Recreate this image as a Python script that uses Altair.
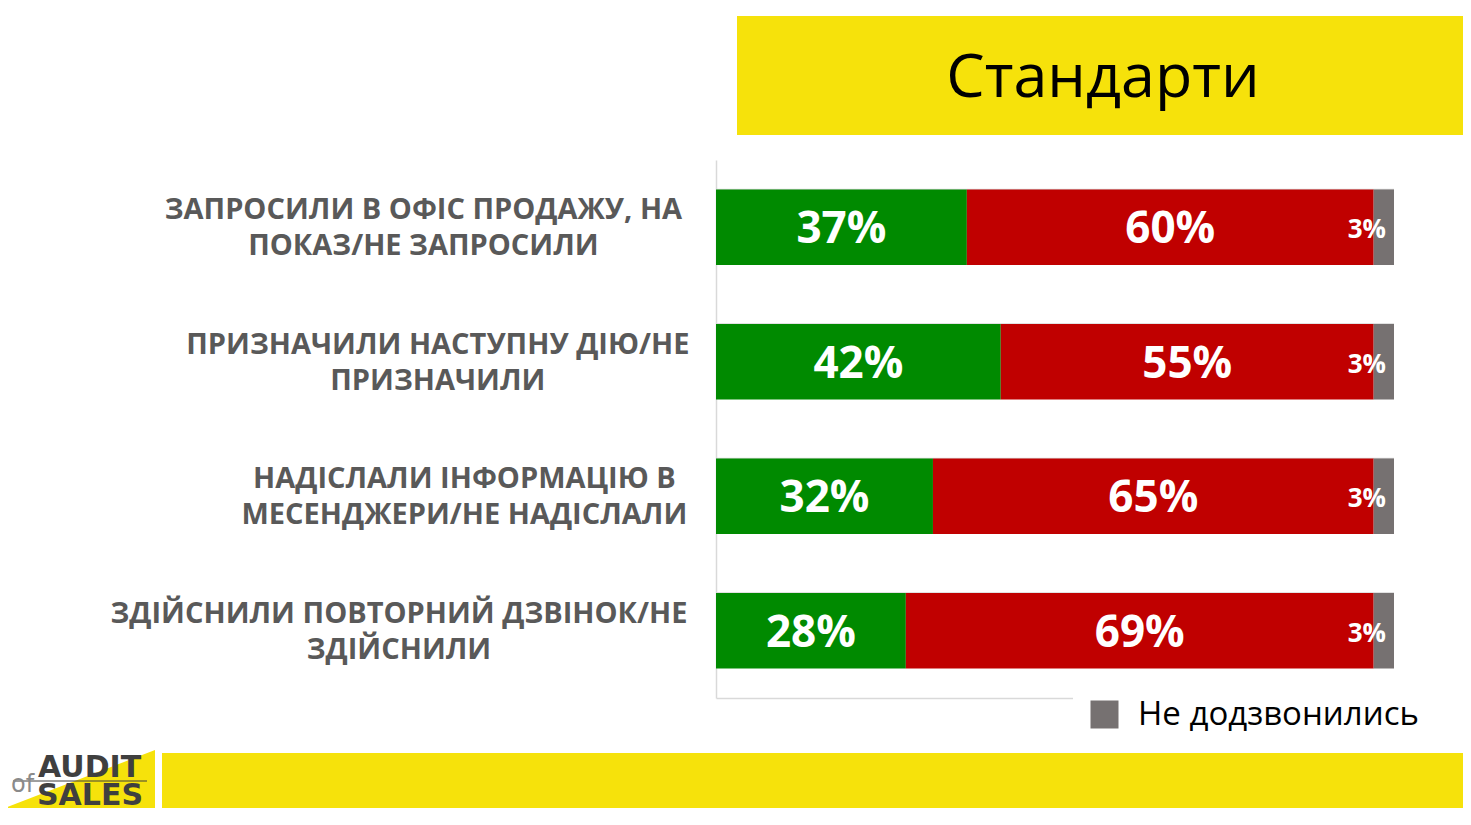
import altair as alt
import pandas as pd

# ---- data ----
title_text = "Стандарти"
categories = [
    "ЗАПРОСИЛИ В ОФІС ПРОДАЖУ, НА\nПОКАЗ/НЕ ЗАПРОСИЛИ",
    "ПРИЗНАЧИЛИ НАСТУПНУ ДІЮ/НЕ\nПРИЗНАЧИЛИ",
    "НАДІСЛАЛИ ІНФОРМАЦІЮ В\nМЕСЕНДЖЕРИ/НЕ НАДІСЛАЛИ",
    "ЗДІЙСНИЛИ ПОВТОРНИЙ ДЗВІНОК/НЕ\nЗДІЙСНИЛИ",
]
answered_yes = [37, 42, 32, 28]
answered_no = [60, 55, 65, 69]
not_reached = [3, 3, 3, 3]
statuses = ["Так", "Ні", "Не додзвонились"]
legend_values = ["Не додзвонились"]
logo_top = "AUDIT"
logo_bottom = "SALES"
logo_of = "of"

# ---- styles ----
colors = ["#008A00", "#C00000", "#767171"]
YELLOW = "#F6E20B"
GRID = "#D9D9D9"

rows = []
series = [answered_yes, answered_no, not_reached]
for i, c in enumerate(categories):
    for j, s in enumerate(statuses):
        rows.append({"cat": c, "status": s, "value": series[j][i], "order": j})
df = pd.DataFrame(rows)
cat_df = pd.DataFrame({"cat": categories})
one = pd.DataFrame({"a": [0]})

W, H = 678, 538
yscale = alt.Scale(domain=categories, paddingInner=0.44, paddingOuter=0.22)
xscale = alt.Scale(domain=[0, 100], nice=False, zero=True)
xaxis = alt.Axis(labels=False, ticks=False, grid=False, domainColor=GRID,
                 domainWidth=1.5, title=None)
yaxis = alt.Axis(labels=False, ticks=False, grid=False, domainColor=GRID,
                 domainWidth=1.5, title=None)


def Y(**kw):
    return alt.Y("cat:N", scale=yscale, axis=yaxis, **kw)


base = alt.Chart(df).transform_stack(
    stack="value", as_=["v0", "v1"], groupby=["cat"],
    sort=[alt.SortField("order", order="ascending")]
)

bars = base.mark_bar().encode(
    x=alt.X("v0:Q", scale=xscale, axis=xaxis),
    x2="v1:Q",
    y=Y(),
    color=alt.Color(
        "status:N",
        scale=alt.Scale(domain=statuses, range=colors),
        legend=alt.Legend(
            values=legend_values, orient="none", legendX=357, legendY=523,
            padding=15, fillColor="white", title=None, symbolType="square",
            symbolSize=784, symbolStrokeWidth=0, symbolOpacity=1,
            labelFontSize=33, labelFont="Open Sans", labelColor="black",
            labelOffset=17, labelLimit=400,
        ),
    ),
)

mids = base.transform_calculate(
    mid="(datum.v0 + datum.v1) / 2", label="datum.value + '%'"
)
main_text = mids.transform_filter(alt.datum.order < 2).mark_text(
    font="Open Sans", fontWeight="bold", fontSize=44, color="white",
    baseline="middle", align="center", dy=3
).encode(x=alt.X("mid:Q", scale=xscale, axis=xaxis), y=Y(), text="label:N")

small_text = mids.transform_filter(alt.datum.order == 2).mark_text(
    font="Open Sans", fontWeight="bold", fontSize=26, color="white",
    baseline="middle", align="center", dx=-17, dy=3
).encode(x=alt.X("mid:Q", scale=xscale, axis=xaxis), y=Y(), text="label:N")

grid = alt.Chart(cat_df).mark_rule(color=GRID, strokeWidth=1.5).encode(
    y=Y(bandPosition=0)
)

# estimated half-width of the longest line (font metrics), for centred lines
cat_labels = alt.Chart(cat_df).transform_calculate(
    l1="split(datum.cat, '\\n')[0]",
    l2="split(datum.cat, '\\n')[1]",
).transform_calculate(
    hw="max(9.7 * length(datum.l1) - 2.5 * (length(split(datum.l1, ' ')) - 1),"
       " 9.7 * length(datum.l2) - 2.5 * (length(split(datum.l2, ' ')) - 1))",
).transform_calculate(
    lx="-(31 + datum.hw) / 6.78"
).mark_text(
    align="center", baseline="middle", font="Open Sans", fontWeight="bold",
    fontSize=29, color="#595959", lineHeight=36, lineBreak="\n", dy=-17
).encode(x=alt.X("lx:Q", scale=xscale, axis=xaxis), y=Y(), text="cat:N")

# ---- decorations (pixel offsets relative to plot origin) ----
title_box = alt.Chart(one).mark_rect(color=YELLOW).encode(
    x=alt.value(21), x2=alt.value(760), y=alt.value(-144), y2=alt.value(-25)
)
title = alt.Chart(one).mark_text(
    text=title_text, font="Open Sans", fontSize=61, color="black",
    align="center", baseline="alphabetic"
).encode(x=alt.value(387), y=alt.value(-63))

bottom_bar = alt.Chart(one).mark_rect(color=YELLOW).encode(
    x=alt.value(-554), x2=alt.value(760), y=alt.value(593), y2=alt.value(648)
)
logo_tri = alt.Chart(one).mark_point(
    shape="M -1 0.387 L 1 -0.387 L 1 0.387 Z", filled=True, size=22500,
    color=YELLOW, opacity=1, strokeWidth=0
).encode(x=alt.value(-636), y=alt.value(619))
logo_t1 = alt.Chart(one).mark_text(
    text=logo_top, font="DejaVu Sans", fontWeight="bold", fontSize=30,
    color="#3F3F3F", align="left", baseline="alphabetic"
).encode(x=alt.value(-678), y=alt.value(617))
logo_t2 = alt.Chart(one).mark_text(
    text=logo_bottom, font="DejaVu Sans", fontWeight="bold", fontSize=30,
    color="#3F3F3F", align="left", baseline="alphabetic"
).encode(x=alt.value(-679), y=alt.value(645))
logo_line = alt.Chart(one).mark_rule(color="#3F3F3F", strokeWidth=1).encode(
    x=alt.value(-703), x2=alt.value(-569), y=alt.value(621)
)
logo_of_t = alt.Chart(one).mark_text(
    text=logo_of, font="DejaVu Sans", fontWeight="normal", fontSize=24,
    color="#8A8A8A", align="left", baseline="alphabetic"
).encode(x=alt.value(-705), y=alt.value(632))

chart = alt.layer(
    title_box, title, bottom_bar, logo_tri, logo_line, logo_of_t, logo_t1,
    logo_t2, grid, bars, main_text, small_text, cat_labels
).properties(
    width=W, height=H,
    padding={"left": 708, "top": 152, "right": 69, "bottom": 114},
    autosize=alt.AutoSizeParams(type="none"),
    background="white",
).configure_view(stroke=None)

chart.save("out.html", embed_options={"renderer": "svg", "actions": False})
